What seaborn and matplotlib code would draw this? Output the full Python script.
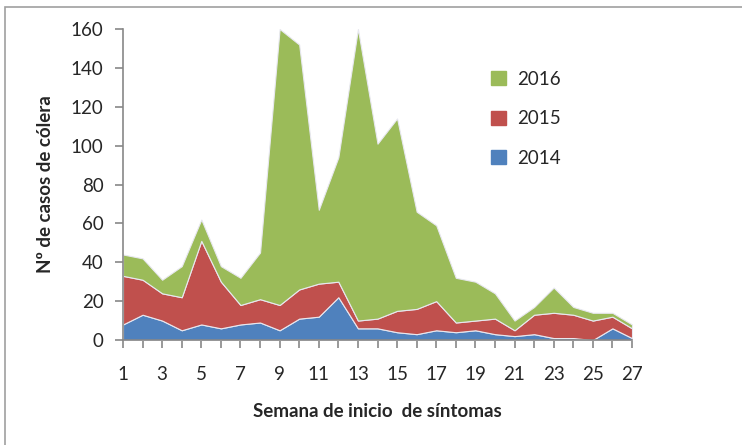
import numpy as np
import pandas as pd
import matplotlib
matplotlib.use('Agg')
import matplotlib.pyplot as plt
from matplotlib.patches import Patch, Rectangle
import seaborn as sns

# weekly cholera cases per year
semanas = list(range(1, 28))
casos_2014 = [8, 13, 10, 5, 8, 6, 8, 9, 5, 11, 12, 22, 6, 6, 4, 3, 5, 4, 5, 3, 2, 3, 1, 1, 0, 6, 1]
casos_2015 = [25, 18, 14, 17, 43, 24, 10, 12, 13, 15, 17, 8, 4, 5, 11, 13, 15, 5, 5, 8, 3, 10, 13, 12, 10, 6, 5]
casos_2016 = [11, 11, 7, 16, 11, 8, 14, 24, 142, 126, 38, 64, 150, 90, 99, 50, 39, 23, 20, 13, 5, 4, 13, 4, 4, 2, 2]
anios = ['2014', '2015', '2016']
colores = ['#4F81BD', '#C0504D', '#9BBB59']

df = pd.DataFrame({'semana': semanas, '2014': casos_2014, '2015': casos_2015, '2016': casos_2016})

sns.set_style('white')
plt.rcParams['font.family'] = ['Lato', 'DejaVu Sans']

fig = plt.figure(figsize=(7.42, 4.45), dpi=100)
ax = fig.add_axes([123 / 742, 1 - 340 / 445, (632 - 123) / 742, (340 - 29) / 445])

# stacked areas
base = np.zeros(len(df))
for anio, color in zip(anios, colores):
    top = base + df[anio].values
    ax.fill_between(df['semana'], base, top, color=color, edgecolor='#E8E8F0', linewidth=0.8, label=anio)
    base = top

ax.set_xlim(1, 27)
ax.set_ylim(0, 160)
ax.set_yticks(range(0, 161, 20))
ax.set_xticks(semanas)
ax.set_xticklabels([str(s) if s % 2 == 1 else '' for s in semanas])

for s in ['top', 'right']:
    ax.spines[s].set_visible(False)
for s in ['left', 'bottom']:
    ax.spines[s].set_color('#878787')
    ax.spines[s].set_linewidth(1.2)
ax.tick_params(axis='y', direction='out', length=6, width=1.2, color='#878787', labelsize=13.5, pad=8)
ax.tick_params(axis='x', direction='out', length=6, width=1.2, color='#878787', labelsize=13.5, pad=13)
ax.tick_params(left=True, bottom=True)

ax.set_ylabel('Nº de casos de cólera', fontsize=13.5, fontweight='bold', labelpad=12)
ax.set_xlabel('Semana de inicio  de síntomas', fontsize=13.5, fontweight='bold', labelpad=14)

handles = [Patch(color=c) for c in colores[::-1]]
ax.legend(handles, anios[::-1], loc='upper left', bbox_to_anchor=(0.69, 0.92), frameon=False,
          fontsize=13.5, labelspacing=1.2, handlelength=0.8, handleheight=0.8, handletextpad=0.6)

# chart frame
fig.patches.append(Rectangle((5 / 742, -0.1), 1.2, 1 - 7 / 445 + 0.1, transform=fig.transFigure,
                             fill=False, edgecolor='#A0A0A0', linewidth=1.2))

fig.savefig('out.png', dpi=100)
